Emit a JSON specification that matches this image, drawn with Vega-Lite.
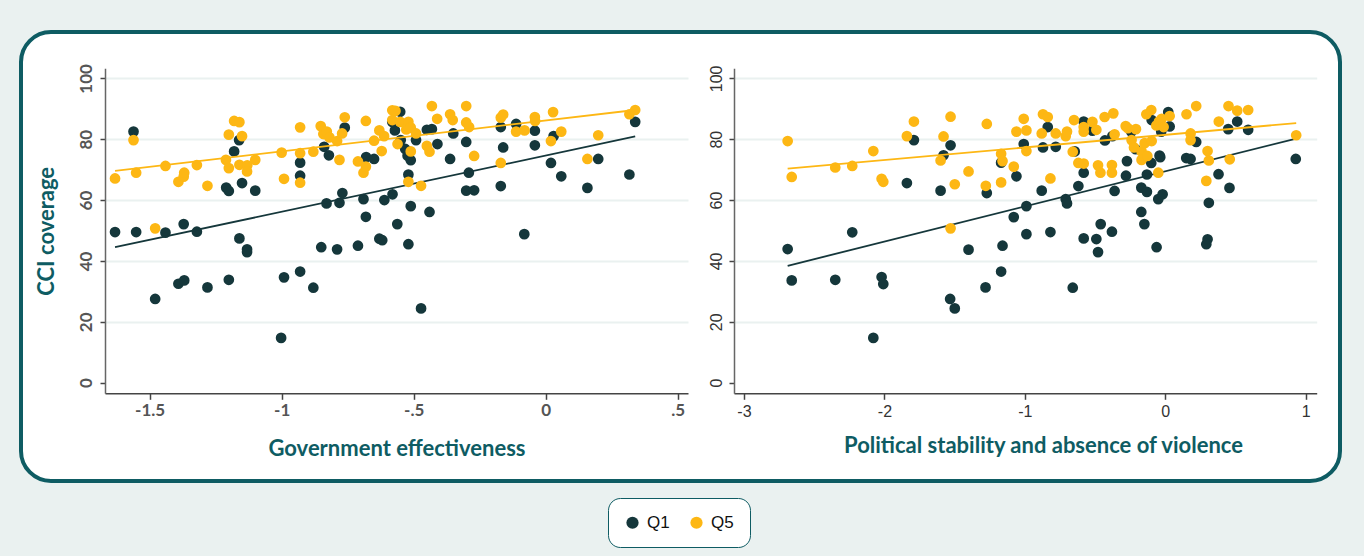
{
"$schema": "https://vega.github.io/schema/vega-lite/v6.json",
"width": 1319, "height": 449,
"autosize": {"type": "none"},
"padding": {"left": 21, "top": 32, "right": 24, "bottom": 75},
"background": "#EAF1F0",
"config": {
  "view": {"fill": "white", "stroke": "#0E5C63", "strokeWidth": 4, "cornerRadius": 30},
  "axis": {"labelFlush": false, "labelOverlap": false}
},
"datasets": {
"ge": [
{"x":-1.561,"y":82.5,"g":"Q1"},{"x":-1.631,"y":49.5,"g":"Q1"},{"x":-1.551,"y":49.5,"g":"Q1"},{"x":-1.440,"y":49.3,"g":"Q1"},{"x":-1.371,"y":52.1,"g":"Q1"},{"x":-1.321,"y":49.6,"g":"Q1"},{"x":-1.180,"y":76.0,"g":"Q1"},{"x":-1.161,"y":79.7,"g":"Q1"},{"x":-1.150,"y":65.6,"g":"Q1"},{"x":-1.210,"y":64.1,"g":"Q1"},{"x":-1.200,"y":63.0,"g":"Q1"},{"x":-1.100,"y":63.1,"g":"Q1"},{"x":-1.160,"y":47.4,"g":"Q1"},{"x":-1.131,"y":43.8,"g":"Q1"},{"x":-1.131,"y":42.9,"g":"Q1"},{"x":-0.930,"y":72.3,"g":"Q1"},{"x":-0.930,"y":68.0,"g":"Q1"},{"x":-0.839,"y":77.5,"g":"Q1"},{"x":-0.821,"y":74.7,"g":"Q1"},{"x":-0.761,"y":83.8,"g":"Q1"},{"x":-0.680,"y":74.1,"g":"Q1"},{"x":-0.650,"y":73.5,"g":"Q1"},{"x":-0.830,"y":58.9,"g":"Q1"},{"x":-0.781,"y":59.1,"g":"Q1"},{"x":-0.770,"y":62.3,"g":"Q1"},{"x":-0.690,"y":60.3,"g":"Q1"},{"x":-0.681,"y":54.5,"g":"Q1"},{"x":-0.611,"y":60.0,"g":"Q1"},{"x":-0.580,"y":61.9,"g":"Q1"},{"x":-0.562,"y":52.1,"g":"Q1"},{"x":-0.850,"y":44.5,"g":"Q1"},{"x":-0.790,"y":43.8,"g":"Q1"},{"x":-0.711,"y":45.0,"g":"Q1"},{"x":-0.630,"y":47.3,"g":"Q1"},{"x":-0.619,"y":46.8,"g":"Q1"},{"x":-0.571,"y":82.9,"g":"Q1"},{"x":-0.581,"y":85.7,"g":"Q1"},{"x":-0.551,"y":89.0,"g":"Q1"},{"x":-1.479,"y":27.5,"g":"Q1"},{"x":-1.391,"y":32.5,"g":"Q1"},{"x":-1.369,"y":33.6,"g":"Q1"},{"x":-1.281,"y":31.3,"g":"Q1"},{"x":-1.200,"y":33.8,"g":"Q1"},{"x":-1.002,"y":14.7,"g":"Q1"},{"x":-0.991,"y":34.6,"g":"Q1"},{"x":-0.930,"y":36.5,"g":"Q1"},{"x":-0.880,"y":31.2,"g":"Q1"},{"x":-0.549,"y":79.7,"g":"Q1"},{"x":-0.491,"y":79.7,"g":"Q1"},{"x":-0.532,"y":76.8,"g":"Q1"},{"x":-0.523,"y":74.6,"g":"Q1"},{"x":-0.511,"y":73.1,"g":"Q1"},{"x":-0.520,"y":68.4,"g":"Q1"},{"x":-0.450,"y":83.1,"g":"Q1"},{"x":-0.431,"y":83.3,"g":"Q1"},{"x":-0.410,"y":78.4,"g":"Q1"},{"x":-0.350,"y":81.9,"g":"Q1"},{"x":-0.362,"y":73.5,"g":"Q1"},{"x":-0.301,"y":79.1,"g":"Q1"},{"x":-0.291,"y":69.0,"g":"Q1"},{"x":-0.301,"y":63.1,"g":"Q1"},{"x":-0.271,"y":63.2,"g":"Q1"},{"x":-0.170,"y":84.0,"g":"Q1"},{"x":-0.112,"y":85.0,"g":"Q1"},{"x":-0.161,"y":77.3,"g":"Q1"},{"x":-0.041,"y":82.8,"g":"Q1"},{"x":-0.041,"y":78.0,"g":"Q1"},{"x":0.030,"y":81.0,"g":"Q1"},{"x":-0.170,"y":64.6,"g":"Q1"},{"x":0.020,"y":72.2,"g":"Q1"},{"x":0.059,"y":67.8,"g":"Q1"},{"x":0.158,"y":64.0,"g":"Q1"},{"x":0.199,"y":73.5,"g":"Q1"},{"x":0.317,"y":68.4,"g":"Q1"},{"x":0.339,"y":85.7,"g":"Q1"},{"x":-0.511,"y":58.0,"g":"Q1"},{"x":-0.440,"y":56.1,"g":"Q1"},{"x":-0.520,"y":45.5,"g":"Q1"},{"x":-0.081,"y":48.8,"g":"Q1"},{"x":-0.472,"y":24.4,"g":"Q1"},
{"x":-1.631,"y":67.1,"g":"Q5"},{"x":-1.561,"y":79.7,"g":"Q5"},{"x":-1.551,"y":69.0,"g":"Q5"},{"x":-1.479,"y":50.7,"g":"Q5"},{"x":-1.440,"y":71.2,"g":"Q5"},{"x":-1.391,"y":66.0,"g":"Q5"},{"x":-1.371,"y":67.7,"g":"Q5"},{"x":-1.369,"y":69.0,"g":"Q5"},{"x":-1.321,"y":71.5,"g":"Q5"},{"x":-1.281,"y":64.7,"g":"Q5"},{"x":-1.211,"y":73.2,"g":"Q5"},{"x":-1.200,"y":81.5,"g":"Q5"},{"x":-1.200,"y":70.5,"g":"Q5"},{"x":-1.180,"y":86.0,"g":"Q5"},{"x":-1.160,"y":85.6,"g":"Q5"},{"x":-1.160,"y":71.6,"g":"Q5"},{"x":-1.150,"y":81.0,"g":"Q5"},{"x":-1.130,"y":71.4,"g":"Q5"},{"x":-1.131,"y":69.4,"g":"Q5"},{"x":-1.100,"y":73.2,"g":"Q5"},{"x":-1.000,"y":75.6,"g":"Q5"},{"x":-0.991,"y":67.0,"g":"Q5"},{"x":-0.930,"y":83.9,"g":"Q5"},{"x":-0.930,"y":75.4,"g":"Q5"},{"x":-0.930,"y":65.7,"g":"Q5"},{"x":-0.880,"y":75.9,"g":"Q5"},{"x":-0.852,"y":84.3,"g":"Q5"},{"x":-0.842,"y":81.7,"g":"Q5"},{"x":-0.829,"y":82.5,"g":"Q5"},{"x":-0.819,"y":80.6,"g":"Q5"},{"x":-0.790,"y":79.4,"g":"Q5"},{"x":-0.781,"y":73.2,"g":"Q5"},{"x":-0.771,"y":81.9,"g":"Q5"},{"x":-0.761,"y":87.2,"g":"Q5"},{"x":-0.711,"y":72.7,"g":"Q5"},{"x":-0.690,"y":69.0,"g":"Q5"},{"x":-0.681,"y":71.0,"g":"Q5"},{"x":-0.681,"y":86.0,"g":"Q5"},{"x":-0.650,"y":79.5,"g":"Q5"},{"x":-0.630,"y":82.9,"g":"Q5"},{"x":-0.621,"y":76.1,"g":"Q5"},{"x":-0.612,"y":81.0,"g":"Q5"},{"x":-0.581,"y":89.5,"g":"Q5"},{"x":-0.569,"y":89.3,"g":"Q5"},{"x":-0.581,"y":86.3,"g":"Q5"},{"x":-0.561,"y":78.4,"g":"Q5"},{"x":-0.551,"y":85.7,"g":"Q5"},{"x":-0.520,"y":85.7,"g":"Q5"},{"x":-0.528,"y":83.2,"g":"Q5"},{"x":-0.511,"y":83.8,"g":"Q5"},{"x":-0.491,"y":81.9,"g":"Q5"},{"x":-0.511,"y":76.0,"g":"Q5"},{"x":-0.520,"y":66.0,"g":"Q5"},{"x":-0.472,"y":64.7,"g":"Q5"},{"x":-0.450,"y":77.8,"g":"Q5"},{"x":-0.440,"y":75.9,"g":"Q5"},{"x":-0.431,"y":90.9,"g":"Q5"},{"x":-0.411,"y":86.7,"g":"Q5"},{"x":-0.362,"y":88.2,"g":"Q5"},{"x":-0.352,"y":86.3,"g":"Q5"},{"x":-0.301,"y":90.9,"g":"Q5"},{"x":-0.301,"y":85.5,"g":"Q5"},{"x":-0.290,"y":84.0,"g":"Q5"},{"x":-0.271,"y":74.5,"g":"Q5"},{"x":-0.170,"y":87.1,"g":"Q5"},{"x":-0.161,"y":88.1,"g":"Q5"},{"x":-0.170,"y":72.2,"g":"Q5"},{"x":-0.112,"y":82.5,"g":"Q5"},{"x":-0.080,"y":82.9,"g":"Q5"},{"x":-0.041,"y":87.3,"g":"Q5"},{"x":-0.040,"y":86.0,"g":"Q5"},{"x":0.028,"y":88.9,"g":"Q5"},{"x":0.059,"y":82.5,"g":"Q5"},{"x":0.020,"y":79.4,"g":"Q5"},{"x":0.158,"y":73.5,"g":"Q5"},{"x":0.199,"y":81.3,"g":"Q5"},{"x":0.317,"y":88.2,"g":"Q5"},{"x":0.339,"y":89.6,"g":"Q5"}
],
"ps": [
{"x":-1.790,"y":79.7,"g":"Q1"},{"x":-1.579,"y":74.7,"g":"Q1"},{"x":-1.529,"y":78.0,"g":"Q1"},{"x":-1.840,"y":65.6,"g":"Q1"},{"x":-1.600,"y":63.1,"g":"Q1"},{"x":-1.271,"y":62.3,"g":"Q1"},{"x":-1.169,"y":72.3,"g":"Q1"},{"x":-1.060,"y":67.8,"g":"Q1"},{"x":-1.008,"y":78.4,"g":"Q1"},{"x":-0.989,"y":58.0,"g":"Q1"},{"x":-1.079,"y":54.4,"g":"Q1"},{"x":-0.989,"y":48.8,"g":"Q1"},{"x":-2.689,"y":43.9,"g":"Q1"},{"x":-2.229,"y":49.4,"g":"Q1"},{"x":-1.401,"y":43.7,"g":"Q1"},{"x":-1.159,"y":45.0,"g":"Q1"},{"x":-2.660,"y":33.6,"g":"Q1"},{"x":-2.350,"y":33.8,"g":"Q1"},{"x":-2.020,"y":34.7,"g":"Q1"},{"x":-2.008,"y":32.4,"g":"Q1"},{"x":-2.079,"y":14.7,"g":"Q1"},{"x":-1.532,"y":27.5,"g":"Q1"},{"x":-1.499,"y":24.4,"g":"Q1"},{"x":-1.280,"y":31.3,"g":"Q1"},{"x":-1.169,"y":36.5,"g":"Q1"},{"x":-0.871,"y":77.3,"g":"Q1"},{"x":-0.837,"y":84.0,"g":"Q1"},{"x":-0.780,"y":77.5,"g":"Q1"},{"x":-0.880,"y":63.1,"g":"Q1"},{"x":-0.818,"y":49.5,"g":"Q1"},{"x":-0.709,"y":60.3,"g":"Q1"},{"x":-0.700,"y":58.9,"g":"Q1"},{"x":-0.645,"y":76.0,"g":"Q1"},{"x":-0.619,"y":64.6,"g":"Q1"},{"x":-0.581,"y":85.8,"g":"Q1"},{"x":-0.581,"y":69.0,"g":"Q1"},{"x":-0.519,"y":82.8,"g":"Q1"},{"x":-0.581,"y":47.4,"g":"Q1"},{"x":-0.491,"y":47.2,"g":"Q1"},{"x":-0.479,"y":42.9,"g":"Q1"},{"x":-0.460,"y":52.1,"g":"Q1"},{"x":-0.380,"y":49.6,"g":"Q1"},{"x":-0.430,"y":79.6,"g":"Q1"},{"x":-0.377,"y":81.0,"g":"Q1"},{"x":-0.361,"y":63.0,"g":"Q1"},{"x":-0.280,"y":68.0,"g":"Q1"},{"x":-0.273,"y":72.8,"g":"Q1"},{"x":-0.242,"y":82.5,"g":"Q1"},{"x":-0.211,"y":76.7,"g":"Q1"},{"x":-0.171,"y":64.1,"g":"Q1"},{"x":-0.131,"y":68.4,"g":"Q1"},{"x":-0.131,"y":62.7,"g":"Q1"},{"x":-0.100,"y":72.2,"g":"Q1"},{"x":-0.097,"y":86.3,"g":"Q1"},{"x":-0.171,"y":56.1,"g":"Q1"},{"x":-0.149,"y":52.1,"g":"Q1"},{"x":-0.050,"y":60.3,"g":"Q1"},{"x":-0.019,"y":61.9,"g":"Q1"},{"x":-0.062,"y":44.5,"g":"Q1"},{"x":-0.041,"y":74.6,"g":"Q1"},{"x":-0.036,"y":74.1,"g":"Q1"},{"x":-0.029,"y":82.5,"g":"Q1"},{"x":0.021,"y":88.9,"g":"Q1"},{"x":0.031,"y":84.2,"g":"Q1"},{"x":0.149,"y":73.8,"g":"Q1"},{"x":0.180,"y":73.5,"g":"Q1"},{"x":0.220,"y":79.1,"g":"Q1"},{"x":0.310,"y":59.1,"g":"Q1"},{"x":0.301,"y":47.1,"g":"Q1"},{"x":0.292,"y":45.5,"g":"Q1"},{"x":0.379,"y":68.5,"g":"Q1"},{"x":0.457,"y":64.0,"g":"Q1"},{"x":0.448,"y":83.3,"g":"Q1"},{"x":0.512,"y":85.8,"g":"Q1"},{"x":0.590,"y":83.1,"g":"Q1"},{"x":0.929,"y":73.5,"g":"Q1"},{"x":-0.659,"y":31.2,"g":"Q1"},
{"x":-2.689,"y":79.4,"g":"Q5"},{"x":-2.660,"y":67.6,"g":"Q5"},{"x":-2.350,"y":70.7,"g":"Q5"},{"x":-2.229,"y":71.2,"g":"Q5"},{"x":-2.079,"y":76.1,"g":"Q5"},{"x":-2.020,"y":67.0,"g":"Q5"},{"x":-2.008,"y":66.0,"g":"Q5"},{"x":-1.840,"y":81.0,"g":"Q5"},{"x":-1.790,"y":85.8,"g":"Q5"},{"x":-1.579,"y":80.9,"g":"Q5"},{"x":-1.529,"y":87.4,"g":"Q5"},{"x":-1.600,"y":73.0,"g":"Q5"},{"x":-1.499,"y":65.2,"g":"Q5"},{"x":-1.529,"y":50.7,"g":"Q5"},{"x":-1.401,"y":69.4,"g":"Q5"},{"x":-1.278,"y":64.7,"g":"Q5"},{"x":-1.271,"y":85.0,"g":"Q5"},{"x":-1.169,"y":75.2,"g":"Q5"},{"x":-1.159,"y":72.8,"g":"Q5"},{"x":-1.169,"y":65.8,"g":"Q5"},{"x":-1.079,"y":71.0,"g":"Q5"},{"x":-1.060,"y":82.5,"g":"Q5"},{"x":-1.008,"y":86.7,"g":"Q5"},{"x":-0.989,"y":82.9,"g":"Q5"},{"x":-0.989,"y":76.1,"g":"Q5"},{"x":-0.880,"y":81.9,"g":"Q5"},{"x":-0.871,"y":88.2,"g":"Q5"},{"x":-0.837,"y":87.3,"g":"Q5"},{"x":-0.818,"y":67.1,"g":"Q5"},{"x":-0.780,"y":81.9,"g":"Q5"},{"x":-0.709,"y":81.0,"g":"Q5"},{"x":-0.700,"y":82.5,"g":"Q5"},{"x":-0.659,"y":75.9,"g":"Q5"},{"x":-0.650,"y":86.3,"g":"Q5"},{"x":-0.619,"y":72.2,"g":"Q5"},{"x":-0.581,"y":72.0,"g":"Q5"},{"x":-0.581,"y":84.0,"g":"Q5"},{"x":-0.581,"y":82.5,"g":"Q5"},{"x":-0.519,"y":85.7,"g":"Q5"},{"x":-0.491,"y":83.1,"g":"Q5"},{"x":-0.479,"y":71.4,"g":"Q5"},{"x":-0.462,"y":69.0,"g":"Q5"},{"x":-0.432,"y":87.3,"g":"Q5"},{"x":-0.380,"y":71.5,"g":"Q5"},{"x":-0.380,"y":69.0,"g":"Q5"},{"x":-0.370,"y":88.5,"g":"Q5"},{"x":-0.361,"y":81.6,"g":"Q5"},{"x":-0.282,"y":84.3,"g":"Q5"},{"x":-0.266,"y":83.6,"g":"Q5"},{"x":-0.240,"y":79.7,"g":"Q5"},{"x":-0.223,"y":77.3,"g":"Q5"},{"x":-0.209,"y":83.3,"g":"Q5"},{"x":-0.169,"y":76.0,"g":"Q5"},{"x":-0.169,"y":73.2,"g":"Q5"},{"x":-0.147,"y":78.7,"g":"Q5"},{"x":-0.128,"y":74.5,"g":"Q5"},{"x":-0.135,"y":88.2,"g":"Q5"},{"x":-0.100,"y":89.6,"g":"Q5"},{"x":-0.097,"y":79.4,"g":"Q5"},{"x":-0.064,"y":84.5,"g":"Q5"},{"x":-0.050,"y":69.0,"g":"Q5"},{"x":-0.045,"y":85.8,"g":"Q5"},{"x":-0.026,"y":86.7,"g":"Q5"},{"x":-0.012,"y":84.0,"g":"Q5"},{"x":0.031,"y":87.6,"g":"Q5"},{"x":0.151,"y":88.2,"g":"Q5"},{"x":0.180,"y":81.9,"g":"Q5"},{"x":0.180,"y":79.7,"g":"Q5"},{"x":0.220,"y":90.9,"g":"Q5"},{"x":0.301,"y":76.1,"g":"Q5"},{"x":0.310,"y":73.0,"g":"Q5"},{"x":0.292,"y":66.3,"g":"Q5"},{"x":0.381,"y":85.8,"g":"Q5"},{"x":0.450,"y":90.9,"g":"Q5"},{"x":0.459,"y":73.4,"g":"Q5"},{"x":0.512,"y":89.4,"g":"Q5"},{"x":0.590,"y":89.6,"g":"Q5"},{"x":0.932,"y":81.3,"g":"Q5"}
],
"gefit": [
{"x":-1.631,"y":44.5,"g":"Q1"},{"x":0.339,"y":80.9,"g":"Q1"},
{"x":-1.631,"y":69.6,"g":"Q5"},{"x":0.339,"y":89.6,"g":"Q5"}
],
"psfit": [
{"x":-2.689,"y":38.4,"g":"Q1"},{"x":0.932,"y":80.2,"g":"Q1"},
{"x":-2.689,"y":70.3,"g":"Q5"},{"x":0.932,"y":85.3,"g":"Q5"}
]
},
"layer": [
{
 "encoding": {
  "x": {"field": "x", "type": "quantitative",
    "scale": {"domain": [-1.669, 0.539], "range": [84, 667], "nice": false, "zero": false},
    "axis": {"orient": "bottom", "offset": -87.7, "values": [-1.5, -1, -0.5, 0, 0.5],
      "labelExpr": "datum.value == 0 ? '0' : (datum.value < 0 ? '-' : '') + replace('' + abs(datum.value), '0.', '.')",
      "title": "Government effectiveness", "grid": false,
      "domainColor": "#444", "domainWidth": 1.5, "tickColor": "#444", "tickWidth": 1.5, "tickSize": 6,
      "labelFont": "Lato", "labelFontWeight": "bold", "labelFontSize": 17, "labelColor": "#555", "labelPadding": 3,
      "titleFont": "Lato", "titleFontWeight": "bold", "titleFontSize": 22, "titleColor": "#0E5C63", "titlePadding": 20}},
  "y": {"field": "y", "type": "quantitative",
    "scale": {"domain": [-3.5, 103.3], "range": [361.3, 36.3], "nice": false, "zero": false},
    "axis": {"orient": "left", "offset": -84, "values": [0, 20, 40, 60, 80, 100],
      "title": "CCI coverage", "grid": true,
      "gridColor": {"condition": {"test": "datum.value === 0", "value": "rgba(0,0,0,0)"}, "value": "#EAF1F0"}, "gridWidth": 2,
      "domainColor": "#666", "domainWidth": 1.5, "tickColor": "#444", "tickWidth": 1.5, "tickSize": 5,
      "labelAngle": 270, "labelAlign": "center", "labelBaseline": "alphabetic", "labelPadding": 9,
      "labelFont": "Lato", "labelFontWeight": "bold", "labelFontSize": 17, "labelColor": "#555",
      "titleFont": "Lato", "titleFontWeight": "bold", "titleFontSize": 22, "titleColor": "#0E5C63", "titlePadding": 19}},
  "color": {"field": "g", "type": "nominal",
    "scale": {"domain": ["Q1", "Q5"], "range": ["#15373B", "#FDB714"]},
    "legend": {"orient": "none", "legendX": 587, "legendY": 466, "direction": "horizontal", "title": null,
      "fillColor": "white", "strokeColor": "#0E5C63", "cornerRadius": 12, "padding": 16,
      "symbolType": "circle", "symbolSize": 150, "symbolStrokeWidth": 0, "columnPadding": 18, "labelOffset": 6,
      "labelFont": "Liberation Sans", "labelFontSize": 17, "labelColor": "#111"}}
 },
 "layer": [
  {"data": {"name": "ge"}, "transform": [{"filter": "datum.g == 'Q1'"}], "mark": {"type": "point", "filled": true, "size": 115, "opacity": 1, "strokeWidth": 0}},
  {"data": {"name": "gefit"}, "transform": [{"filter": "datum.g == 'Q1'"}], "mark": {"type": "line", "strokeWidth": 1.8}},
  {"data": {"name": "ge"}, "transform": [{"filter": "datum.g == 'Q5'"}], "mark": {"type": "point", "filled": true, "size": 115, "opacity": 1, "strokeWidth": 0}},
  {"data": {"name": "gefit"}, "transform": [{"filter": "datum.g == 'Q5'"}], "mark": {"type": "line", "strokeWidth": 1.8}}
 ]
},
{
 "encoding": {
  "x": {"field": "x", "type": "quantitative",
    "scale": {"domain": [-3.071, 1.078], "range": [713, 1295.7], "nice": false, "zero": false},
    "axis": {"orient": "bottom", "offset": -87.7, "values": [-3, -2, -1, 0, 1],
      "labelExpr": "(datum.value < 0 ? '-' : '') + abs(datum.value)",
      "title": "Political stability and absence of violence", "grid": false, "titleX": 1022,
      "domainColor": "#444", "domainWidth": 1.5, "tickColor": "#444", "tickWidth": 1.5, "tickSize": 6,
      "labelFont": "Liberation Sans", "labelFontSize": 16, "labelColor": "#333", "labelPadding": 4,
      "titleFont": "Lato", "titleFontWeight": "bold", "titleFontSize": 22, "titleColor": "#0E5C63", "titlePadding": 16}},
  "y": {"field": "y", "type": "quantitative",
    "scale": {"domain": [-3.5, 103.3], "range": [361.3, 36.3], "nice": false, "zero": false},
    "axis": {"orient": "left", "offset": -713, "values": [0, 20, 40, 60, 80, 100],
      "title": null, "grid": true,
      "gridColor": {"condition": {"test": "datum.value === 0", "value": "rgba(0,0,0,0)"}, "value": "#EAF1F0"}, "gridWidth": 2,
      "domainColor": "#666", "domainWidth": 1.5, "tickColor": "#444", "tickWidth": 1.5, "tickSize": 5,
      "labelAngle": 270, "labelAlign": "center", "labelBaseline": "alphabetic", "labelPadding": 8,
      "labelFont": "Liberation Sans", "labelFontSize": 16, "labelColor": "#333"}},
  "color": {"field": "g", "type": "nominal",
    "scale": {"domain": ["Q1", "Q5"], "range": ["#15373B", "#FDB714"]}}
 },
 "layer": [
  {"data": {"name": "ps"}, "transform": [{"filter": "datum.g == 'Q1'"}], "mark": {"type": "point", "filled": true, "size": 115, "opacity": 1, "strokeWidth": 0}},
  {"data": {"name": "psfit"}, "transform": [{"filter": "datum.g == 'Q1'"}], "mark": {"type": "line", "strokeWidth": 1.8}},
  {"data": {"name": "ps"}, "transform": [{"filter": "datum.g == 'Q5'"}], "mark": {"type": "point", "filled": true, "size": 115, "opacity": 1, "strokeWidth": 0}},
  {"data": {"name": "psfit"}, "transform": [{"filter": "datum.g == 'Q5'"}], "mark": {"type": "line", "strokeWidth": 1.8}}
 ]
}
],
"resolve": {"scale": {"x": "independent", "y": "independent"}, "axis": {"x": "independent", "y": "independent"}}
}
